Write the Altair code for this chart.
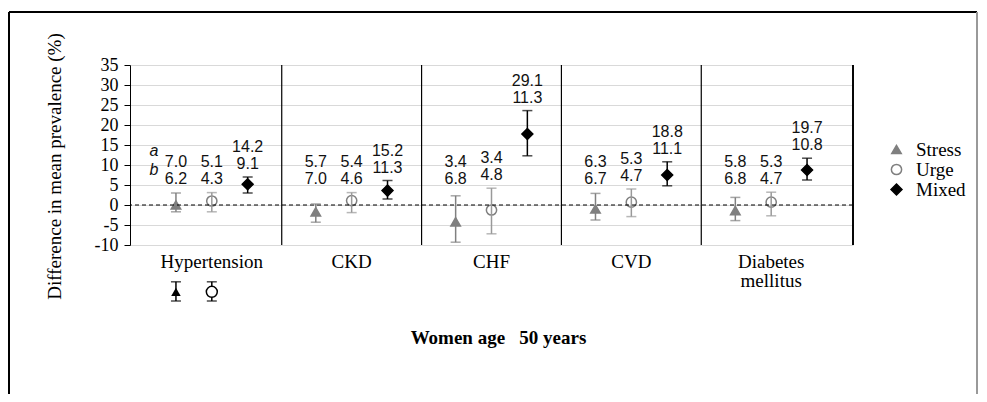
import altair as alt
import pandas as pd

categories = ["Hypertension", "CKD", "CHF", "CVD", "Diabetes mellitus"]
series = ["Stress", "Urge", "Mixed"]

stress_mean = [0.0, -1.7, -4.2, -1.0, -1.4]
stress_lo = [-1.7, -4.3, -9.3, -3.75, -3.9]
stress_hi = [3.0, 0.25, 2.3, 2.9, 1.9]
urge_mean = [1.0, 1.1, -1.25, 0.7, 0.7]
urge_lo = [-1.7, -1.9, -7.2, -2.9, -2.7]
urge_hi = [3.1, 3.1, 4.2, 4.0, 3.2]
mixed_mean = [5.2, 3.6, 17.75, 7.5, 8.75]
mixed_lo = [3.0, 1.5, 12.3, 4.8, 6.25]
mixed_hi = [7.0, 6.1, 23.6, 10.8, 11.7]

stress_a = [7.0, 5.7, 3.4, 6.3, 5.8]
stress_b = [6.2, 7.0, 6.8, 6.7, 6.8]
urge_a = [5.1, 5.4, 3.4, 5.3, 5.3]
urge_b = [4.3, 4.6, 4.8, 4.7, 4.7]
mixed_a = [14.2, 15.2, 29.1, 18.8, 19.7]
mixed_b = [9.1, 11.3, 11.3, 11.1, 10.8]

# key glyphs drawn under "Hypertension"
key_series = ["Stress", "Urge"]
key_mean = [-21.7, -21.7]
key_lo = [-24.0, -24.0]
key_hi = [-19.2, -19.2]

y_ticks = [-10, -5, 0, 5, 10, 15, 20, 25, 30, 35]
x_title = "Women age\u00a0\u00a0\u00a050 years"
y_title = "Difference in mean prevalence (%)"

series_data = {
    "Stress": (stress_mean, stress_lo, stress_hi, stress_a, stress_b, "#808080"),
    "Urge": (urge_mean, urge_lo, urge_hi, urge_a, urge_b, "#999999"),
    "Mixed": (mixed_mean, mixed_lo, mixed_hi, mixed_a, mixed_b, "#000000"),
}
rows = []
for s in series:
    m, lo, hi, a, b, c = series_data[s]
    for i, cat in enumerate(categories):
        rows.append({"cat": cat, "series": s, "mean": m[i], "lo": lo[i], "hi": hi[i],
                     "a": a[i], "b": b[i], "ebc": c,
                     "ly": max(hi[i] + 3.2, 6.5)})
df = pd.DataFrame(rows)

ab_df = df[(df.cat == "Hypertension") & (df.series == "Stress")].copy()
ab_top = ab_df.assign(t="a")
ab_bot = ab_df.assign(t="b")

key_df = pd.DataFrame({"cat": ["Hypertension"] * 2, "series": key_series,
                       "mean": key_mean, "lo": key_lo, "hi": key_hi})
div_df = pd.DataFrame({"cat": categories[:-1]})

W, H = 723, 180
x_scale = alt.Scale(domain=categories, paddingInner=0, paddingOuter=0.085)
xo_scale = alt.Scale(type="point", domain=series, padding=0.95)
y_scale = alt.Scale(domain=[-10, 35], nice=False, zero=False)

xax = alt.Axis(title=x_title, domain=False, ticks=False, grid=False, labelAngle=0,
               labelFont="Liberation Serif", labelFontSize=19, labelColor="black",
               labelPadding=7, labelLineHeight=19,
               labelExpr="datum.label == 'Diabetes mellitus' ? ['Diabetes', 'mellitus'] : datum.label",
               titleFont="Liberation Serif", titleFontSize=19, titleFontWeight="bold",
               titleColor="black", titleY=92, titleX=368, titleBaseline="middle")
yax = alt.Axis(title=y_title, values=y_ticks, grid=True, labelOverlap=False,
               labelExpr="toString(datum.value)",
               gridColor="#d9d9d9", gridWidth=1, domainColor="black", tickColor="black",
               tickSize=6, labelPadding=6, labelFont="Liberation Serif", labelFontSize=18,
               labelColor="black", titleFont="Liberation Serif", titleFontSize=19,
               titleFontWeight="normal", titleColor="black", titleX=-76, titleY=101,
               titleAngle=-90, titleBaseline="middle", titleAlign="center")


def XN(**kw):
    return alt.X("cat:N", scale=x_scale, sort=categories, axis=xax, **kw)


def YQ(field):
    return alt.Y(field, scale=y_scale, axis=yax)


XO = alt.XOffset("series:N", scale=xo_scale, sort=series)

base = alt.Chart(df)

zero = alt.Chart(pd.DataFrame({"cat": ["CKD"], "z": [0]})).mark_rule(
    color="black", strokeDash=[4, 3], strokeWidth=1).encode(y=YQ("z:Q"))

dividers = alt.Chart(div_df).mark_rule(color="black", strokeWidth=1.2).encode(
    x=XN(bandPosition=1),
    y=alt.datum(35, scale=y_scale, axis=yax), y2=alt.datum(-10))
right_edge = alt.Chart(div_df).mark_rule(color="black", strokeWidth=1.2).encode(
    x=alt.value(W), y=alt.value(0), y2=alt.value(H))

eb = base.mark_rule(strokeWidth=1.5).encode(
    x=XN(), xOffset=XO, y=YQ("lo:Q"), y2="hi:Q", stroke=alt.Stroke("ebc:N", scale=None))
cap_lo = base.mark_tick(thickness=1.5, size=10).encode(
    x=XN(), xOffset=XO, y=YQ("lo:Q"), color=alt.Color("ebc:N", scale=None))
cap_hi = base.mark_tick(thickness=1.5, size=10).encode(
    x=XN(), xOffset=XO, y=YQ("hi:Q"), color=alt.Color("ebc:N", scale=None))

leg = alt.Legend(title=None, orient="none", legendX=757, legendY=75,
                 labelFont="Liberation Serif", labelFontSize=19, labelColor="black",
                 labelOffset=10, rowPadding=-4, symbolStrokeWidth=1.5)
points = base.mark_point(opacity=1, strokeWidth=1.5).encode(
    x=XN(), xOffset=XO, y=YQ("mean:Q"),
    shape=alt.Shape("series:N", sort=series,
                    scale=alt.Scale(domain=series, range=["triangle-up", "circle", "diamond"]), legend=leg),
    fill=alt.Fill("series:N", sort=series,
                  scale=alt.Scale(domain=series, range=["#7f7f7f", "transparent", "#000000"]), legend=leg),
    stroke=alt.Stroke("series:N", sort=series,
                      scale=alt.Scale(domain=series, range=["#7f7f7f", "#7f7f7f", "#000000"]), legend=leg),
    size=alt.Size("series:N", sort=series,
                  scale=alt.Scale(domain=series, range=[90, 120, 140]), legend=leg),
)

txt_b = base.mark_text(font="Liberation Sans", fontSize=16, color="#111", baseline="middle").encode(
    x=XN(), xOffset=XO, y=YQ("ly:Q"), text=alt.Text("b:Q", format=".1f"))
txt_a = base.mark_text(font="Liberation Sans", fontSize=16, color="#111", baseline="middle", dy=-17).encode(
    x=XN(), xOffset=XO, y=YQ("ly:Q"), text=alt.Text("a:Q", format=".1f"))

ab_a = alt.Chart(ab_top).mark_text(font="Liberation Sans", fontSize=16, fontStyle="italic", color="#111",
                                   baseline="middle", dx=-22, dy=-28).encode(
    x=XN(), xOffset=XO, y=YQ("ly:Q"), text="t:N")
ab_b = alt.Chart(ab_bot).mark_text(font="Liberation Sans", fontSize=16, fontStyle="italic", color="#111",
                                   baseline="middle", dx=-22, dy=-9).encode(
    x=XN(), xOffset=XO, y=YQ("ly:Q"), text="t:N")

kbase = alt.Chart(key_df)
k_eb = kbase.mark_rule(color="black", strokeWidth=1.5).encode(
    x=XN(), xOffset=XO, y=YQ("lo:Q"), y2="hi:Q")
k_lo = kbase.mark_tick(color="black", thickness=1.5, size=10).encode(
    x=XN(), xOffset=XO, y=YQ("lo:Q"))
k_hi = kbase.mark_tick(color="black", thickness=1.5, size=10).encode(
    x=XN(), xOffset=XO, y=YQ("hi:Q"))
k_tri = kbase.transform_filter("datum.series == 'Stress'").mark_point(
    shape="triangle-up", filled=True, color="black", opacity=1, size=90).encode(
    x=XN(), xOffset=XO, y=YQ("mean:Q"))
k_cir = kbase.transform_filter("datum.series == 'Urge'").mark_point(
    shape="circle", filled=False, fill="white", color="black", opacity=1, size=120, strokeWidth=1.5).encode(
    x=XN(), xOffset=XO, y=YQ("mean:Q"))

fr = alt.Chart(div_df.head(1))
frame_top = fr.mark_rule(color="black", strokeWidth=2).encode(
    x=alt.value(-121), x2=alt.value(847), y=alt.value(-53))
frame_left = fr.mark_rule(color="black", strokeWidth=2).encode(
    x=alt.value(-121), y=alt.value(-53), y2=alt.value(340))
frame_right = fr.mark_rule(color="#999999", strokeWidth=2).encode(
    x=alt.value(847), y=alt.value(-53), y2=alt.value(340))

chart = alt.layer(
    points, dividers, right_edge, zero, eb, cap_lo, cap_hi, txt_b, txt_a, ab_a, ab_b,
    k_eb, k_lo, k_hi, k_tri, k_cir, frame_top, frame_left, frame_right
).properties(
    width=W, height=H,
    autosize=alt.AutoSizeParams(type="none"),
    padding={"left": 122, "top": 57, "right": 126, "bottom": 149},
    background="white",
).configure_view(stroke=None)

chart.save("out.html", embed_options={"renderer": "svg", "actions": False})
